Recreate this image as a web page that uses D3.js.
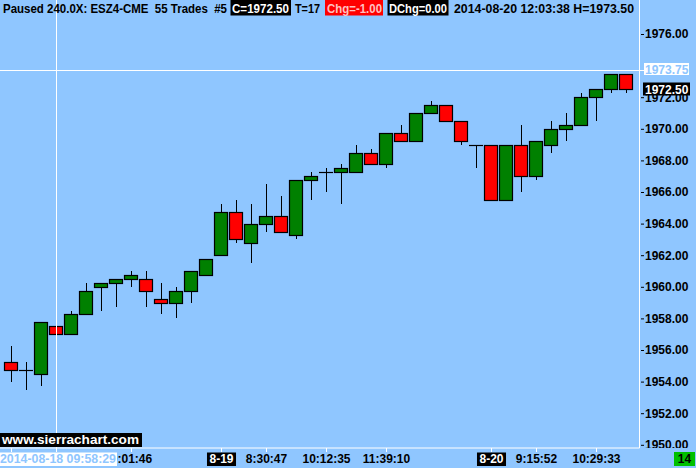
<!DOCTYPE html>
<html><head><meta charset="utf-8">
<script src="https://cdn.jsdelivr.net/npm/d3@7"></script>
<style>
html,body{margin:0;padding:0;background:#8FC6FF;}
svg{display:block;}
text{font-family:"Liberation Sans",Arial,sans-serif;font-weight:bold;}
</style></head>
<body><svg id="c" width="696" height="468"></svg>
<script>
// ---- data ----
const candleIndex = d3.range(42);
const opens  = [1955.25,1954.75,1954.5,1957.5,1957,1958.25,1960,1960.25,1960.5,1960.5,1959.25,1959,1959.75,1960.75,1962,1964.75,1962.75,1964,1964.5,1963.25,1966.75,1967.25,1967.25,1967.25,1968.5,1967.75,1969.75,1969.25,1971,1971.5,1970.5,1969,1969,1965.5,1969,1967,1969,1970,1970.25,1972,1972.5,1973.5];
const highs  = [1956.25,1955.25,1957.75,1958.5,1958.5,1960.25,1960.25,1960.5,1961,1961,1960.25,1960,1961,1961.75,1965.25,1965.5,1965.25,1966.5,1965.75,1966.75,1967.25,1967.5,1967.75,1969,1968.75,1969.75,1970.25,1971,1971.75,1971.5,1970.5,1969,1969,1969,1970.25,1969.25,1970.5,1971,1972.25,1972.5,1973.5,1973.5];
const lows   = [1954,1953.5,1953.75,1956.75,1957,1958.25,1958.5,1958.75,1960,1958.75,1958.25,1958,1959,1960.75,1962,1962.75,1961.5,1963.5,1963.5,1963,1965.5,1966,1965.25,1967.25,1967.75,1967.5,1969.25,1969.25,1971,1970.5,1969,1967.5,1965.5,1965.5,1966,1966.75,1968.5,1969.25,1970.25,1970.5,1972.25,1972.25];
const closes = [1954.75,1954.75,1957.75,1957,1958.25,1959.75,1960.25,1960.5,1960.75,1959.75,1959,1959.75,1961,1961.75,1964.75,1963,1964,1964.5,1963.5,1966.75,1967,1967.25,1967.5,1968.5,1967.75,1969.75,1969.25,1971,1971.5,1970.5,1969.25,1969,1965.5,1969,1967,1969.25,1970,1970.25,1972,1972.5,1973.5,1972.5];
const priceTicks = [1950,1952,1954,1956,1958,1960,1962,1964,1966,1968,1970,1972,1976];
const timeTickIndex = [0,8,14,17,21,25,32,35,39];
const timeTickLabels = ["","9:01:46","8-19","8:30:47","10:12:35","11:39:10","8-20","9:15:52","10:29:33"];
const dateMarkers = ["8-19","8-20"];
const crosshairIndex = 3, crosshairPrice = 1973.75, lastPrice = 1972.50;
const headerParts = [
  {t:"Paused 240.0X: ESZ4-CME  55 Trades  #5", x:3, w:224, box:null},
  {t:"C=1972.50", x:232, w:57, box:"#000", fg:"#fff", bx:230.5, bw:60.5},
  {t:"T=17", x:295, w:25, box:null},
  {t:"Chg=-1.00", x:327, w:55, box:"#ff0000", fg:"#ffc0c0", bx:325, bw:58},
  {t:"DChg=0.00", x:389, w:58, box:"#000", fg:"#fff", bx:387.5, bw:61},
  {t:"2014-08-20 12:03:38 H=1973.50", x:454, w:180, box:null}
];
const startLabel = "2014-08-18  09:58:29";
const siteLabel = "www.sierrachart.com";
const barCountLabel = "14";

// ---- layout ----
const BG = "#8FC6FF";
const plotRight = 639.5, plotBottom = 448;
const svg = d3.select("#c");
svg.append("rect").attr("width",696).attr("height",468).attr("fill",BG);

const x = d3.scaleBand().domain(candleIndex).range([3.7, 633.7]).paddingInner(0.05).paddingOuter(0.025);
const y = d3.scaleLinear().domain([1950, 1976]).range([444.8, 34]);
const cx = i => Math.round(x(i) + x.bandwidth()/2) + 0.5;

svg.append("clipPath").attr("id","plot").append("rect").attr("x",0).attr("y",0).attr("width",plotRight).attr("height",plotBottom);
svg.append("clipPath").attr("id","axisclip").append("rect").attr("x",plotRight).attr("y",0).attr("width",60).attr("height",plotBottom);

const g = svg.append("g").attr("clip-path","url(#plot)");
const data = candleIndex.map(i => ({i, o:opens[i], h:highs[i], l:lows[i], c:closes[i]}));

// wicks
g.selectAll("line.wick").data(data).join("line").attr("class","wick")
  .attr("x1",d=>cx(d.i)).attr("x2",d=>cx(d.i))
  .attr("y1",d=>Math.round(y(d.h))).attr("y2",d=>Math.round(y(d.l)))
  .attr("stroke","#000").attr("stroke-width",1);

// bodies
const bodies = data.filter(d=>d.o!==d.c);
g.selectAll("rect.body").data(bodies).join("rect").attr("class","body")
  .attr("x",d=>Math.round(x(d.i))+0.5)
  .attr("width",Math.round(x.bandwidth())-1)
  .attr("y",d=>Math.round(y(Math.max(d.o,d.c)))+0.5)
  .attr("height",d=>Math.round(y(Math.min(d.o,d.c)))-Math.round(y(Math.max(d.o,d.c))))
  .attr("fill",d=>d.c>d.o?"#008000":"#ff0000")
  .attr("stroke","#000").attr("stroke-width",1.2);
const dojis = data.filter(d=>d.o===d.c);
g.selectAll("line.doji").data(dojis).join("line").attr("class","doji")
  .attr("x1",d=>Math.round(x(d.i))).attr("x2",d=>Math.round(x(d.i)+x.bandwidth()))
  .attr("y1",d=>Math.round(y(d.o))+0.5).attr("y2",d=>Math.round(y(d.o))+0.5)
  .attr("stroke","#000").attr("stroke-width",1.2);

// plot frame (white right & bottom lines)
svg.append("line").attr("x1",plotRight).attr("x2",plotRight).attr("y1",0).attr("y2",plotBottom).attr("stroke","#fff");
svg.append("line").attr("x1",0).attr("x2",plotRight).attr("y1",plotBottom).attr("y2",plotBottom).attr("stroke","#fff");

// crosshair
const chx = cx(crosshairIndex);
svg.append("line").attr("x1",chx).attr("x2",chx).attr("y1",0).attr("y2",plotBottom+4).attr("stroke","#fff");
const chy = Math.round(y(crosshairPrice))+0.5;
svg.append("line").attr("x1",0).attr("x2",644).attr("y1",chy).attr("y2",chy).attr("stroke","#fff");

// right axis
const ay = svg.append("g").attr("clip-path","url(#axisclip)").append("g").attr("transform","translate(641,0)")
  .call(d3.axisRight(y).tickValues(priceTicks).tickFormat(d3.format(".2f")).tickSizeInner(3).tickSizeOuter(0).tickPadding(1));
ay.select(".domain").remove();
ay.selectAll(".tick line").attr("stroke","#000");
ay.selectAll(".tick text").attr("fill","#000").style("font-size","12px").style("font-family","'Liberation Sans',Arial,sans-serif").style("font-weight","bold");

// crosshair price label
svg.append("rect").attr("x",644).attr("y",63).attr("width",45).attr("height",12).attr("fill","#fff");
svg.append("text").attr("x",645).attr("y",y(crosshairPrice)+4.5).attr("fill",BG).style("font-size","12px").text(d3.format(".2f")(crosshairPrice));
// last price label
svg.append("rect").attr("x",643).attr("y",82.5).attr("width",47).attr("height",13).attr("fill","#000");
svg.append("text").attr("x",645).attr("y",y(lastPrice)+4.5).attr("fill","#fff").style("font-size","12px").text(d3.format(".2f")(lastPrice));

// bottom time axis
const tg = svg.append("g");
timeTickIndex.forEach((idx,k)=>{
  const px = cx(idx);
  tg.append("line").attr("x1",px).attr("x2",px).attr("y1",plotBottom).attr("y2",plotBottom+4).attr("stroke","#fff");
  const lab = timeTickLabels[k];
  if(!lab) return;
  const isDate = dateMarkers.includes(lab);
  const t = tg.append("text").attr("x",px).attr("y",463).attr("text-anchor","middle")
    .attr("fill",isDate?"#fff":"#000").style("font-size","12px").text(lab);
  if(isDate){
    const w = t.node().getComputedTextLength()+5;
    tg.insert("rect","text").attr("x",px-w/2).attr("y",452.5).attr("width",w).attr("height",13.5).attr("fill","#000");
  }
});
// start date box
svg.append("rect").attr("x",0).attr("y",452.5).attr("width",117).attr("height",13.5).attr("fill","#fff");
svg.append("text").attr("x",0).attr("y",463).attr("fill",BG).style("font-size","12px")
  .attr("textLength",116).attr("lengthAdjust","spacingAndGlyphs").text(startLabel);
// bar count
svg.append("rect").attr("x",674).attr("y",452).attr("width",21).attr("height",14).attr("fill","#00c000");
svg.append("text").attr("x",684.5).attr("y",463).attr("text-anchor","middle").attr("fill","#000").style("font-size","12px").text(barCountLabel);
// site label
svg.append("rect").attr("x",0).attr("y",433).attr("width",142).attr("height",14).attr("fill","#000");
svg.append("text").attr("x",2).attr("y",444).attr("fill","#fff").style("font-size","13px")
  .attr("textLength",137).attr("lengthAdjust","spacingAndGlyphs").text(siteLabel);

// header
headerParts.forEach(p=>{
  if(p.box) svg.append("rect").attr("x",p.bx).attr("y",0).attr("width",p.bw).attr("height",15.5).attr("fill",p.box);
  svg.append("text").attr("x",p.x).attr("y",12.5).attr("fill",p.fg||"#000").style("font-size","12.5px")
    .attr("textLength",p.w).attr("lengthAdjust","spacingAndGlyphs").style("white-space","pre").text(p.t);
});
</script></body></html>
